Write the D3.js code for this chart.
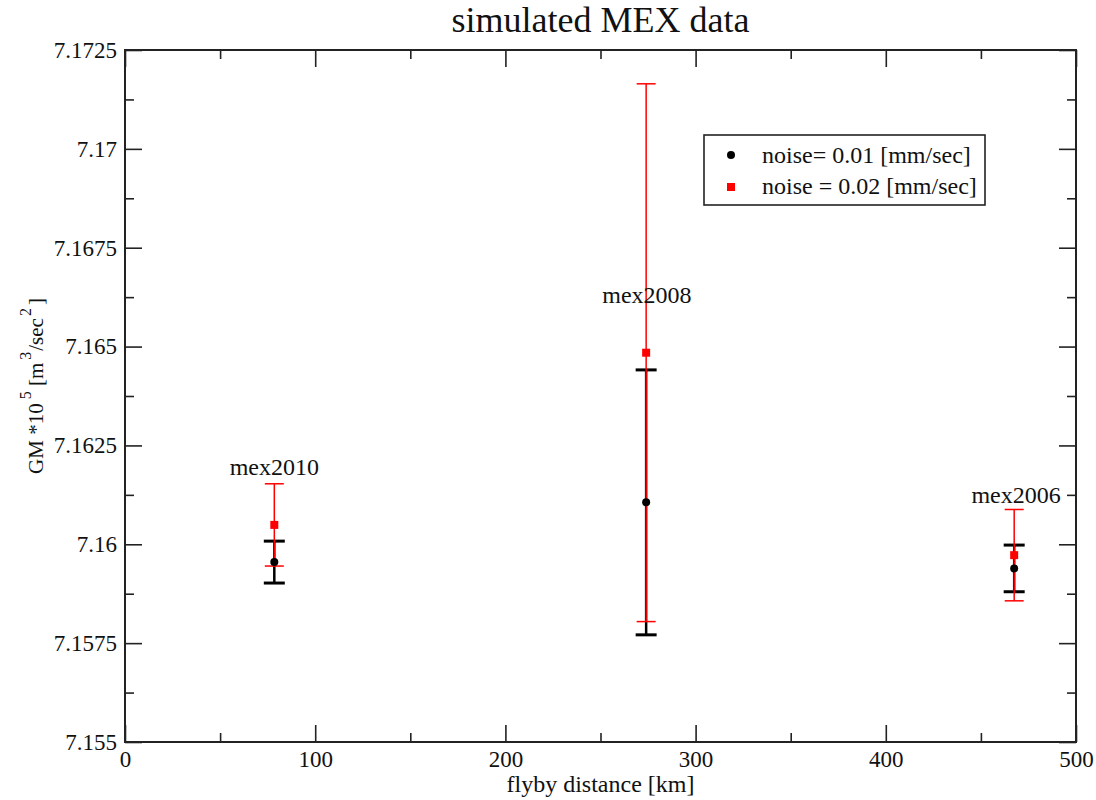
<!DOCTYPE html>
<html>
<head>
<meta charset="utf-8">
<script src="https://cdn.jsdelivr.net/npm/d3@7"></script>
<style>
  html, body { margin: 0; padding: 0; background: #fff; }
  svg { display: block; font-family: "Liberation Serif", "DejaVu Serif", serif; }
  svg text { font-family: "Liberation Serif", "DejaVu Serif", serif !important; }
</style>
</head>
<body>
<svg id="chart" width="1096" height="800"></svg>
<script>
// ---- data ----
const flybys = ["mex2010", "mex2008", "mex2006"];
const distance = [78.5, 274, 467.5];            // km
const gmNoise01 = [7.15955, 7.16106, 7.15939];  // noise = 0.01 mm/sec
const errNoise01 = [0.00053, 0.00335, 0.00059];
const gmNoise02 = [7.16049, 7.164845, 7.159725]; // noise = 0.02 mm/sec
const errNoise02 = [0.00104, 0.0068, 0.001155];
const labelY = [7.16175, 7.1661, 7.16104];
const labelX = [78.5, 274.4, 468.5];
const xTicks = [0, 100, 200, 300, 400, 500];
const yTicks = [7.155, 7.1575, 7.16, 7.1625, 7.165, 7.1675, 7.17, 7.1725];
const yTickLabels = ["7.155", "7.1575", "7.16", "7.1625", "7.165", "7.1675", "7.17", "7.1725"];
const legendLabels = ["noise= 0.01 [mm/sec]", "noise = 0.02 [mm/sec]"];

const margin = { left: 125, right: 20, top: 50, bottom: 58 };
const W = 1096, H = 800;
const svg = d3.select("#chart");
const x = d3.scaleLinear().domain([0, 500]).range([margin.left, W - margin.right]);
const y = d3.scaleLinear().domain([7.155, 7.1725]).range([H - margin.bottom, margin.top]);

const axisColor = "#222";
const fs = 24;
const tickFs = 23;

// minor ticks
const xMinor = d3.range(50, 500, 100);
const yMinor = d3.range(0, 7).map(i => 7.155 + 0.00125 + i * 0.0025);

function styleAxis(g) {
  g.attr("font-family", "Liberation Serif").attr("font-size", tickFs);
  g.select(".domain").remove();
  g.selectAll(".tick line").attr("stroke", axisColor).attr("stroke-width", 1.6);
  g.selectAll(".tick text").attr("font-family", "Liberation Serif").attr("font-size", tickFs).attr("fill", "#111");
}

// bottom axis (major, inward ticks)
svg.append("g").attr("transform", `translate(0,${y.range()[0]})`)
  .call(d3.axisBottom(x).tickValues(xTicks).tickFormat(d3.format("d")).tickSizeInner(-17).tickSizeOuter(0).tickPadding(9))
  .call(styleAxis);
svg.append("g").attr("transform", `translate(0,${y.range()[0]})`)
  .call(d3.axisBottom(x).tickValues(xMinor).tickFormat("").tickSizeInner(-9).tickSizeOuter(0))
  .call(styleAxis);
// top axis
svg.append("g").attr("transform", `translate(0,${y.range()[1]})`)
  .call(d3.axisTop(x).tickValues(xTicks).tickFormat("").tickSizeInner(-17).tickSizeOuter(0))
  .call(styleAxis);
svg.append("g").attr("transform", `translate(0,${y.range()[1]})`)
  .call(d3.axisTop(x).tickValues(xMinor).tickFormat("").tickSizeInner(-9).tickSizeOuter(0))
  .call(styleAxis);
// left axis
svg.append("g").attr("transform", `translate(${x.range()[0]},0)`)
  .call(d3.axisLeft(y).tickValues(yTicks).tickFormat((d, i) => yTickLabels[i]).tickSizeInner(-17).tickSizeOuter(0).tickPadding(8))
  .call(styleAxis);
svg.append("g").attr("transform", `translate(${x.range()[0]},0)`)
  .call(d3.axisLeft(y).tickValues(yMinor).tickFormat("").tickSizeInner(-9).tickSizeOuter(0))
  .call(styleAxis);
// right axis
svg.append("g").attr("transform", `translate(${x.range()[1]},0)`)
  .call(d3.axisRight(y).tickValues(yTicks).tickFormat("").tickSizeInner(-17).tickSizeOuter(0))
  .call(styleAxis);
svg.append("g").attr("transform", `translate(${x.range()[1]},0)`)
  .call(d3.axisRight(y).tickValues(yMinor).tickFormat("").tickSizeInner(-9).tickSizeOuter(0))
  .call(styleAxis);

// frame
svg.append("rect")
  .attr("x", x.range()[0]).attr("y", y.range()[1])
  .attr("width", x.range()[1] - x.range()[0]).attr("height", y.range()[0] - y.range()[1])
  .attr("fill", "none").attr("stroke", axisColor).attr("stroke-width", 2);

// title
svg.append("text").attr("x", (x.range()[0] + x.range()[1]) / 2).attr("y", 32)
  .attr("text-anchor", "middle").attr("font-size", 36).attr("fill", "#111")
  .text("simulated MEX data");

// x label
svg.append("text").attr("x", (x.range()[0] + x.range()[1]) / 2).attr("y", 792)
  .attr("text-anchor", "middle").attr("font-size", fs).attr("fill", "#111")
  .text("flyby distance [km]");

// y label
const yl = svg.append("text")
  .attr("transform", `translate(43,386) rotate(-90)`)
  .attr("text-anchor", "middle").attr("font-size", 21).attr("fill", "#111")
  .attr("xml:space", "preserve").style("white-space", "pre");
yl.append("tspan").text("GM *10");
yl.append("tspan").attr("dy", -12).attr("font-size", 16).attr("dx", 4).text("5");
yl.append("tspan").attr("dy", 12).text(" [m");
yl.append("tspan").attr("dy", -12).attr("font-size", 16).attr("dx", 3).text("3");
yl.append("tspan").attr("dy", 12).attr("dx", 1).text("/sec");
yl.append("tspan").attr("dy", -12).attr("font-size", 16).attr("dx", 2).text("2");
yl.append("tspan").attr("dy", 12).attr("dx", 3).text("]");

// error bars
function errorBars(vals, errs, color, lw, capW, capLw) {
  const g = svg.append("g");
  vals.forEach((v, i) => {
    const cx = x(distance[i]);
    g.append("line").attr("x1", cx).attr("x2", cx).attr("y1", y(v - errs[i])).attr("y2", y(v + errs[i]))
      .attr("stroke", color).attr("stroke-width", lw);
    [v - errs[i], v + errs[i]].forEach(e => {
      g.append("line").attr("x1", cx - capW).attr("x2", cx + capW).attr("y1", y(e)).attr("y2", y(e))
        .attr("stroke", color).attr("stroke-width", capLw);
    });
  });
}
errorBars(gmNoise01, errNoise01, "#000", 2.5, 10.5, 3);
errorBars(gmNoise02, errNoise02, "#ff0000", 1.5, 9.5, 1.5);

// points
svg.append("g").selectAll("circle").data(gmNoise01).join("circle")
  .attr("cx", (d, i) => x(distance[i])).attr("cy", d => y(d)).attr("r", 4).attr("fill", "#000");
svg.append("g").selectAll("rect").data(gmNoise02).join("rect")
  .attr("x", (d, i) => x(distance[i]) - 4).attr("y", d => y(d) - 4)
  .attr("width", 8).attr("height", 8).attr("fill", "#ff0000");

// flyby labels
svg.append("g").selectAll("text").data(flybys).join("text")
  .attr("x", (d, i) => x(labelX[i])).attr("y", (d, i) => y(labelY[i]))
  .attr("text-anchor", "middle").attr("font-size", fs).attr("fill", "#111")
  .text(d => d);

// legend
const lg = svg.append("g");
lg.append("rect").attr("x", 704).attr("y", 135).attr("width", 281).attr("height", 70)
  .attr("fill", "#fff").attr("stroke", axisColor).attr("stroke-width", 1.6);
lg.append("circle").attr("cx", 731).attr("cy", 155).attr("r", 4).attr("fill", "#000");
lg.append("rect").attr("x", 727).attr("y", 183).attr("width", 8).attr("height", 8).attr("fill", "#ff0000");
lg.selectAll("text.leg").data(legendLabels).join("text").attr("class", "leg")
  .attr("x", 762).attr("y", (d, i) => 163 + i * 31)
  .attr("font-size", fs).attr("fill", "#111").text(d => d);
</script>
</body>
</html>
